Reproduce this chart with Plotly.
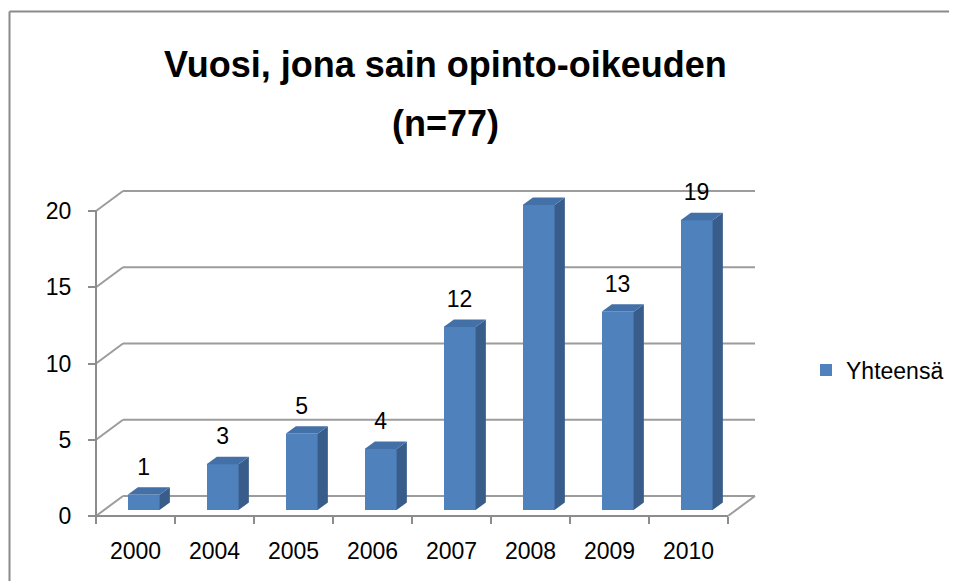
import plotly.graph_objects as go

# ---- data ----
years = ["2000", "2004", "2005", "2006", "2007", "2008", "2009", "2010"]
counts = [1, 3, 5, 4, 12, 20, 13, 19]
y_ticks = [0, 5, 10, 15, 20]
series_name = "Yhteensä"
title_line1 = "Vuosi, jona sain opinto-oikeuden"
title_line2 = "(n=77)"

# ---- geometry (screen pixels) ----
W, H = 957, 581
PAGE_OFF = 8     # default page body margin shifts the figure
PX_X = 79.0      # px per category
PX_Y = 15.25     # px per value unit
AX_LEFT, AX_BOTTOM = 96, 516
PLOT_L, PLOT_R, PLOT_T, PLOT_B = 92, 764, 183, 521
DEPTH_X, DEPTH_Y = 27, 20        # floor depth offset in px
BAR_D0, BAR_D1 = 0.30, 0.68      # bar depth span (fraction of floor depth)
BAR_W = 32                       # bar front width in px
LABEL_GAP = 26                   # px above bar top front edge

FRONT = "#4F81BD"
SIDE = "#385D8A"
TOP = "#4470A8"
GRID = "#9C9C9C"
AXIS = "#8C8C8C"
BORDER = "#8A8A8A"
FONT = "Liberation Sans"
FS = 23

n = len(years)


def ddx(d):
    return d * DEPTH_X / PX_X


def ddy(d):
    return d * DEPTH_Y / PX_Y


def xp(px):
    return (px - PLOT_L) / (PLOT_R - PLOT_L)


def yp(py):
    return (PLOT_B - py) / (PLOT_B - PLOT_T)


x_range = [-0.5 - (AX_LEFT - PLOT_L) / PX_X, -0.5 + (PLOT_R - AX_LEFT) / PX_X]
y_range = [-(PLOT_B - AX_BOTTOM) / PX_Y, (AX_BOTTOM - PLOT_T) / PX_Y]

bw = BAR_W / PX_X
base = ddy(BAR_D0)
cx = [i + ddx(BAR_D0) for i in range(n)]
dd = BAR_D1 - BAR_D0

# side and top faces
side_x, side_y, top_x, top_y = [], [], [], []
for c, v in zip(cx, counts):
    xl, xr = c - bw / 2, c + bw / 2
    t = base + v
    side_x += [xr, xr + ddx(dd), xr + ddx(dd), xr, xr, None]
    side_y += [base, base + ddy(dd), t + ddy(dd), t, base, None]
    top_x += [xl, xr, xr + ddx(dd), xl + ddx(dd), xl, None]
    top_y += [t, t, t + ddy(dd), t + ddy(dd), t, None]

fig = go.Figure()

fig.add_trace(go.Bar(
    x=cx, y=counts, base=base, width=bw, name=series_name,
    marker=dict(color=FRONT, line=dict(width=0)), showlegend=True,
    hoverinfo="skip",
))
fig.add_trace(go.Scatter(
    x=side_x, y=side_y, fill="toself", fillcolor=SIDE, mode="lines",
    line=dict(width=0, color=SIDE), showlegend=False, hoverinfo="skip",
))
fig.add_trace(go.Scatter(
    x=top_x, y=top_y, fill="toself", fillcolor=TOP, mode="lines",
    line=dict(width=0, color=TOP), showlegend=False, hoverinfo="skip",
))
fig.add_trace(go.Scatter(
    x=cx, y=[base + v + LABEL_GAP / PX_Y for v in counts],
    mode="text", text=[str(v) for v in counts],
    textfont=dict(family=FONT, size=FS, color="black"),
    textposition="middle center", cliponaxis=False,
    showlegend=False, hoverinfo="skip",
))

shapes = []
# back wall gridlines + left side diagonals
for t in y_ticks:
    shapes.append(dict(type="line", xref="x", yref="y", layer="below",
                       x0=-0.5 + ddx(1), x1=n - 0.5 + ddx(1),
                       y0=t + ddy(1), y1=t + ddy(1),
                       line=dict(color=GRID, width=2)))
    shapes.append(dict(type="line", xref="x", yref="y", layer="below",
                       x0=-0.5, x1=-0.5 + ddx(1), y0=t, y1=t + ddy(1),
                       line=dict(color=GRID, width=2)))
# floor right diagonal
shapes.append(dict(type="line", xref="x", yref="y", layer="below",
                   x0=n - 0.5, x1=n - 0.5 + ddx(1), y0=0, y1=ddy(1),
                   line=dict(color=GRID, width=2)))
# front axes
shapes.append(dict(type="line", xref="x", yref="y", layer="below",
                   x0=-0.5, x1=n - 0.5, y0=0, y1=0,
                   line=dict(color=AXIS, width=2)))
shapes.append(dict(type="line", xref="x", yref="y", layer="below",
                   x0=-0.5, x1=-0.5, y0=0, y1=max(y_ticks),
                   line=dict(color=AXIS, width=2)))
# outer chart border (top and left edges; the rest lies off-canvas)
bx0, by0 = xp(PAGE_OFF + 1.5), yp(11.5)
shapes.append(dict(type="line", xref="paper", yref="paper",
                   x0=bx0, x1=xp(1200), y0=by0, y1=by0,
                   line=dict(color=BORDER, width=2)))
shapes.append(dict(type="line", xref="paper", yref="paper",
                   x0=bx0, x1=bx0, y0=by0, y1=yp(800),
                   line=dict(color=BORDER, width=2)))

annotations = [
    dict(text="<b>" + title_line1 + "</b>", xref="paper", yref="paper",
         x=xp(445), y=yp(64), xanchor="center", yanchor="middle",
         showarrow=False, font=dict(family=FONT, size=36, color="black")),
    dict(text="<b>" + title_line2 + "</b>", xref="paper", yref="paper",
         x=xp(445), y=yp(123), xanchor="center", yanchor="middle",
         showarrow=False, font=dict(family=FONT, size=36, color="black")),
]

fig.update_layout(
    width=W, height=H,
    margin=dict(l=PLOT_L - PAGE_OFF, r=W - PLOT_R + PAGE_OFF,
                t=PLOT_T - PAGE_OFF, b=H - PLOT_B + PAGE_OFF, pad=0),
    paper_bgcolor="white", plot_bgcolor="white",
    font=dict(family=FONT, size=FS, color="black"),
    shapes=shapes, annotations=annotations,
    showlegend=True,
    legend=dict(x=xp(806), y=yp(370), xanchor="left", yanchor="middle",
                font=dict(family=FONT, size=FS, color="black"),
                itemwidth=30,
                bgcolor="rgba(0,0,0,0)"),
    xaxis=dict(range=x_range, tickmode="array", tickvals=list(range(n)),
               ticktext=years, ticks="", showgrid=False, zeroline=False,
               showline=False, anchor="free",
               position=(PLOT_B - AX_BOTTOM) / (PLOT_B - PLOT_T),
               ticklabelstandoff=19,
               minor=dict(tickmode="array",
                          tickvals=[i - 0.5 for i in range(n + 1)],
                          ticks="outside", ticklen=7, tickwidth=2,
                          tickcolor=AXIS, showgrid=False),
               fixedrange=True),
    yaxis=dict(range=y_range, tickmode="array", tickvals=y_ticks,
               ticks="outside", ticklen=8, tickwidth=2, tickcolor=AXIS,
               showgrid=False, zeroline=False, showline=False,
               anchor="free",
               position=(AX_LEFT - PLOT_L) / (PLOT_R - PLOT_L),
               ticklabelstandoff=12, fixedrange=True),
    bargap=0,
)

fig.write_html("out.html")
